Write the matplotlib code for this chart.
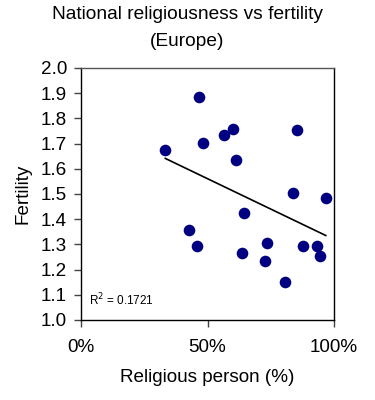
import numpy as np
import matplotlib
matplotlib.use('Agg')
import matplotlib.pyplot as plt

plt.rcParams['font.family'] = ['Liberation Sans', 'DejaVu Sans']

# religious person (%) vs total fertility rate, one point per country
religious = [33.3, 46.6, 48.3, 56.6, 60.2, 61.3, 64.5, 42.7, 45.7, 63.5,
             73.6, 72.5, 80.5, 85.5, 83.9, 87.9, 93.4, 94.5, 96.7]
fertility = [1.675, 1.884, 1.704, 1.733, 1.757, 1.635, 1.426, 1.357, 1.294, 1.265,
             1.304, 1.233, 1.152, 1.754, 1.505, 1.295, 1.295, 1.255, 1.483]
r2_label = 'R$^2$ = 0.1721'

fig = plt.figure(figsize=(3.75, 4.0), dpi=100)
ax = fig.add_axes([0.216, 0.2, 0.675, 0.63])

ax.scatter(religious, fertility, s=70, color='#000080', zorder=3, linewidths=0)

# linear trendline
slope, icpt = np.polyfit(religious, fertility, 1)
xs = np.array([min(religious), max(religious)])
ax.plot(xs, slope * xs + icpt, color='black', lw=1.2, zorder=2)

ax.set_xlim(0, 100)
ax.set_ylim(1.0, 2.0)
ax.set_xticks([0, 50, 100])
ax.set_xticklabels(['0%', '50%', '100%'])
ax.set_yticks(np.arange(1.0, 2.01, 0.1))
ax.set_yticklabels(['%.1f' % v for v in np.arange(1.0, 2.01, 0.1)])
ax.tick_params(axis='both', labelsize=13.6, length=5, width=1, color='#444444')
ax.tick_params(axis='x', pad=9)
ax.tick_params(axis='y', pad=5)
for s in ax.spines.values():
    s.set_linewidth(1)
ax.spines['top'].set_color('#555555')

ax.text(0.03, 0.06, r2_label, transform=ax.transAxes, fontsize=8.5)

ax.set_xlabel('Religious person (%)', fontsize=13.6, labelpad=9)
ax.set_ylabel('Fertility', fontsize=13.6, labelpad=7)
fig.text(0.5, 0.985, 'National religiousness vs fertility\n(Europe)',
         ha='center', va='top', fontsize=13.8, linespacing=1.75)

fig.savefig('out.png', dpi=100)
